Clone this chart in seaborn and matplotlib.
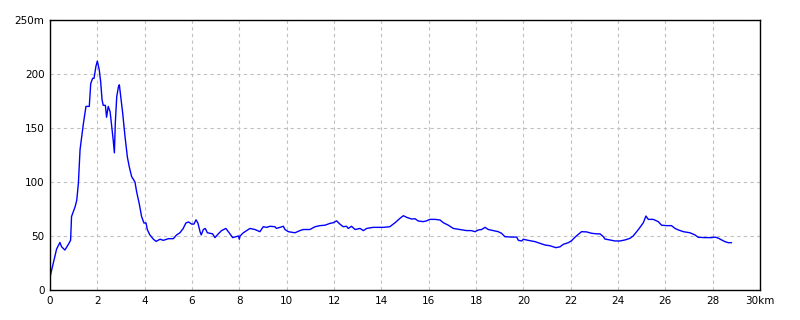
import matplotlib
matplotlib.use("Agg")
import matplotlib.pyplot as plt
import seaborn as sns
import pandas as pd

distance_km = [
    0.0, 0.14, 0.28, 0.42, 0.49, 0.63, 0.77, 0.87, 0.91, 1.06, 1.13, 1.2, 1.27, 1.34,
    1.41, 1.52, 1.66, 1.72, 1.8, 1.86, 1.94, 2.0, 2.08, 2.14, 2.2, 2.25, 2.34, 2.39,
    2.46, 2.54, 2.6, 2.67, 2.72, 2.76, 2.82, 2.89, 2.93, 2.99, 3.07, 3.17, 3.27, 3.35,
    3.45, 3.59, 3.66, 3.77, 3.87, 3.97, 4.06, 4.11, 4.22, 4.37, 4.48, 4.65, 4.79, 5.0,
    5.21, 5.35, 5.49, 5.63, 5.74, 5.85, 5.99, 6.08, 6.17, 6.25, 6.34, 6.39, 6.48, 6.56,
    6.65, 6.76, 6.87, 6.97, 7.11, 7.25, 7.43, 7.57, 7.72, 7.89, 7.96, 8.0, 8.03, 8.17,
    8.45, 8.66, 8.87, 9.01, 9.15, 9.3, 9.5, 9.57, 9.86, 9.93, 10.07, 10.35, 10.56, 10.7,
    10.98, 11.2, 11.41, 11.62, 11.83, 11.97, 12.11, 12.25, 12.39, 12.53, 12.6, 12.74,
    12.89, 13.1, 13.24, 13.38, 13.66, 14.08, 14.36, 14.58, 14.79, 14.93, 15.07, 15.28,
    15.42, 15.56, 15.77, 15.91, 16.05, 16.27, 16.48, 16.62, 16.83, 17.04, 17.32, 17.6,
    17.8, 17.96, 18.1, 18.24, 18.38, 18.52, 18.73, 18.94, 19.08, 19.22, 19.5, 19.72,
    19.79, 19.93, 20.0, 20.2, 20.35, 20.49, 20.7, 20.91, 21.12, 21.27, 21.38, 21.55,
    21.69, 21.9, 22.04, 22.18, 22.32, 22.46, 22.67, 22.89, 23.1, 23.24, 23.38, 23.45,
    23.66, 23.87, 24.08, 24.29, 24.5, 24.64, 24.79, 24.93, 25.07, 25.18, 25.28, 25.49,
    25.7, 25.84, 26.05, 26.26, 26.41, 26.55, 26.76, 27.04, 27.25, 27.39, 27.67, 27.96,
    28.1, 28.24, 28.38, 28.52, 28.66, 28.8,
]
elevation_m = [
    12, 25, 38, 44, 40, 37, 42, 46, 68, 77, 83, 99, 130, 142,
    154, 170, 170, 191, 196, 196, 207, 212, 204, 193, 176, 171, 171, 160,
    170, 165, 153, 139, 127, 155, 179, 188, 190, 179, 164, 142, 123, 114,
    105, 100, 91, 80, 68, 62, 62, 56, 51, 47, 45, 47, 46, 47.5,
    47.5, 51, 53, 57, 62, 63, 61, 61, 65, 62, 54, 51, 56, 57,
    53, 52.5, 52, 48.5, 52, 55, 57, 53, 48.5, 49.5, 50, 47, 50, 53,
    57, 56, 54, 58.6, 58, 59, 58.6, 57, 59, 56, 54, 53, 55, 56,
    56, 58.6, 59.6, 60, 61.7, 62.3, 64, 61, 58.6, 59, 57, 59,
    56, 57, 55, 57, 58, 58, 58.6, 62.3, 66.4, 68.8, 67.3, 65.7,
    66, 63.9, 63.3, 64, 65.4, 65.4, 64.8, 62.3, 60, 57, 56, 55,
    55, 54, 55.6, 56, 58, 56, 55, 54, 52.5, 49.4, 49, 49,
    46, 45.4, 47, 46, 45.4, 44.8, 43.2, 41.7, 41, 40, 39.2, 40,
    42.3, 43.8, 45.7, 48.8, 51.5, 54, 53.8, 52.5, 52, 52, 49.4, 47.2,
    46.3, 45.4, 45.4, 46.3, 47.8, 50, 54, 58, 62.3, 68.5, 65.4, 65.4,
    63.3, 60, 59.6, 59.6, 57, 55.6, 54, 53, 51, 48.8, 48.5, 48.5,
    49, 48, 46.3, 44.8, 43.8, 43.8,
]
x_ticks = list(range(0, 31, 2))
x_tick_labels = [str(v) for v in range(0, 29, 2)] + ["30km"]
y_ticks = [0, 50, 100, 150, 200, 250]
y_tick_labels = ["0", "50", "100", "150", "200", "250m"]

df = pd.DataFrame({"km": distance_km, "elev": elevation_m})

sns.set_style("white")
plt.rcParams["font.family"] = ["DejaVu Sans"]

fig = plt.figure(figsize=(8, 3.2), dpi=100)
ax = fig.add_axes([50 / 800, 30 / 320, 710 / 800, 270 / 320])

sns.lineplot(data=df, x="km", y="elev", ax=ax, color="#0000ff", linewidth=1.0,
             sort=False, estimator=None)

ax.set_xlim(0, 30)
ax.set_ylim(0, 250)
ax.set_xticks(x_ticks)
ax.set_xticklabels(x_tick_labels)
ax.set_yticks(y_ticks)
ax.set_yticklabels(y_tick_labels)
ax.set_xlabel("")
ax.set_ylabel("")
ax.grid(True, color="#c0c0c0", linestyle=(0, (3, 3)), linewidth=0.8)
ax.set_axisbelow(True)
for s in ax.spines.values():
    s.set_visible(True)
    s.set_color("black")
    s.set_linewidth(1.0)
ax.tick_params(axis="both", length=0, labelsize=7.5, colors="black", pad=4)

fig.savefig("out.png", dpi=100, facecolor="white")
